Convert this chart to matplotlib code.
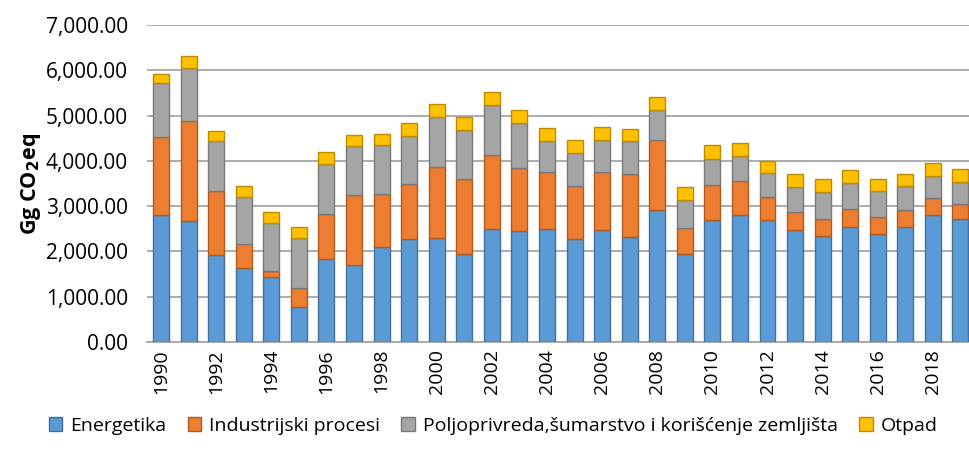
import matplotlib.pyplot as plt
import numpy as np

plt.rcParams['font.family'] = ['Open Sans', 'DejaVu Sans']

years = list(range(1990, 2020))
energetika = [2800, 2670, 1920, 1630, 1430, 770, 1830, 1710, 2090, 2270,
              2290, 1940, 2500, 2460, 2490, 2270, 2470, 2320, 2910, 1940,
              2690, 2810, 2690, 2470, 2350, 2550, 2390, 2530, 2800, 2710]
industrija = [1720, 2220, 1420, 540, 140, 420, 990, 1540, 1170, 1210,
              1570, 1650, 1620, 1380, 1260, 1170, 1280, 1400, 1550, 580,
              770, 740, 510, 390, 370, 380, 370, 380, 370, 330]
poljoprivreda = [1190, 1170, 1100, 1040, 1050, 1110, 1120, 1070, 1080, 1070,
                 1110, 1090, 1120, 1000, 690, 730, 720, 710, 660, 610,
                 590, 560, 540, 560, 600, 590, 570, 530, 500, 490]
otpad = [210, 250, 230, 230, 240, 250, 250, 250, 260, 280,
         280, 280, 290, 290, 280, 280, 280, 280, 300, 290,
         290, 280, 260, 280, 270, 270, 280, 270, 280, 290]

series = [
    ("Energetika", energetika, "#5B9BD5", "#41719C"),
    ("Industrijski procesi", industrija, "#ED7D31", "#AE5A21"),
    ("Poljoprivreda,šumarstvo i korišćenje zemljišta", poljoprivreda, "#A5A5A5", "#787878"),
    ("Otpad", otpad, "#FFC000", "#BC8C00"),
]

fig = plt.figure(figsize=(9.69, 4.5), dpi=100)
ax = fig.add_axes([0.152, 0.24, 0.848, 0.7044])

x = np.arange(len(years))
bottom = np.zeros(len(years))
for name, vals, col, edge in series:
    vals = np.array(vals, dtype=float)
    ax.bar(x, vals, width=0.58, bottom=bottom, color=col, edgecolor=edge,
           linewidth=1, label=name, zorder=3)
    bottom += vals

ax.set_ylim(0, 7000)
ax.set_xlim(-0.5, len(years) - 1 + 0.31)
ax.set_yticks(np.arange(0, 7001, 1000))
ax.set_yticklabels([f"{v:,.2f}" for v in np.arange(0, 7001, 1000)], fontsize=15)
ax.set_xticks(x[::2])
ax.set_xticklabels([str(y) for y in years[::2]], rotation=90, fontsize=14)
ax.tick_params(axis='y', length=0, pad=14)
ax.tick_params(axis='x', length=0, pad=5)
ax.grid(axis='y', color='#A6A6A6', linewidth=1.3, zorder=0)
for s in ['top', 'right', 'left']:
    ax.spines[s].set_visible(False)
ax.spines['bottom'].set_color('#A6A6A6')
ax.spines['bottom'].set_linewidth(1.3)

ax.set_ylabel(r'Gg CO$_\mathbf{2}$eq', fontsize=15.5, fontweight='bold', labelpad=2)

fig.legend(loc='lower center', bbox_to_anchor=(0.509, -0.005), ncol=4, frameon=False,
           fontsize=14, handlelength=0.7, handleheight=0.7, handletextpad=0.4,
           columnspacing=1.1)

fig.savefig("out.png", dpi=100)
